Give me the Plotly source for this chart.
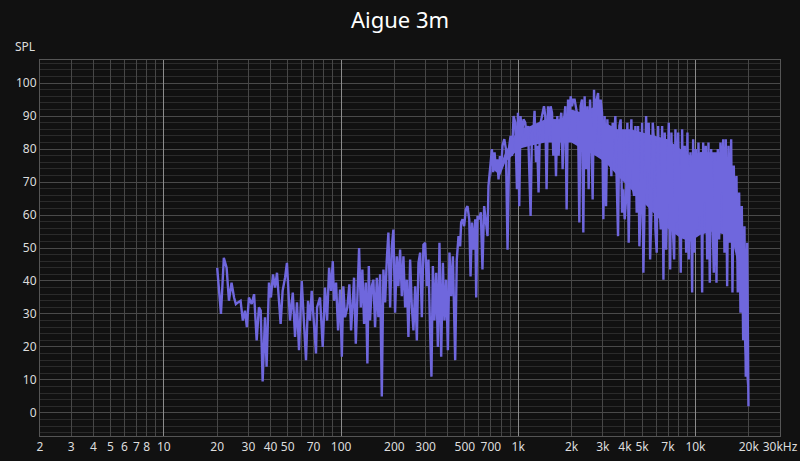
import math
import plotly.graph_objects as go

# ---- data (frequency in Hz, SPL in dB) ----
freq_low = [20, 21, 21.8, 22.6, 23.3, 24.1, 24.9, 25.5, 26.2, 27.1, 27.9, 28.7, 29.4, 30.2,
            31.3, 32.3, 33.4, 34.4, 35.2, 36.1, 37.2, 38.0, 39.2, 40.2, 41.3, 42.4, 43.5,
            44.6, 45.6, 46.8, 48.3, 49.5, 51.5, 53.4, 55.0, 56.4, 57.9, 60.0, 61.8, 63.4,
            65.1, 66.8, 68.3, 70.4, 72.2, 73.2, 76.1, 78.8, 81.2, 83.4, 85.6, 87.8, 89.8,
            91.3, 93.7, 96.2]
spl_low = [44, 30, 47, 44, 34, 39.5, 35, 33, 33.5, 34, 28, 31, 26, 35,
           33, 36, 22, 32, 31, 9.5, 29, 14, 39.5, 35, 42, 38, 42.5,
           34, 27, 37, 41, 45.5, 28, 36.5, 23, 33.5, 19, 40, 27, 16,
           34, 28, 37, 28, 18, 32, 35, 20, 38, 28, 44, 37, 46,
           34, 39.5, 25]

freq_mid = [98.7, 101, 103, 105.3, 108.5, 111.4, 113.9, 116.5, 118.4, 121.1, 123.6, 126.4,
            129.2, 131.9, 134.9, 137.9, 140.8, 143.4, 145.8, 149.1, 152.2, 155.6, 159.1,
            162.4, 166.1, 169.8, 173.4, 177.3, 181.2, 185, 189.2, 193.4, 197.4, 201.8,
            206.4, 210.7, 215.4, 220.3, 224.9, 229.9, 235, 240, 245.4, 250.9, 256.2, 261.9,
            267.7, 273.4, 279.5, 285.7, 291.7, 298.2, 304.9, 311.3, 318.3, 323.7, 329.7,
            336.6, 344.1, 351.8, 359.2, 367.3, 375.5, 383.4, 392, 400.8, 409.2, 418.4,
            427.7, 440.6]
spl_mid = [37.4, 17, 38.4, 29, 32, 39, 25, 34, 41, 21, 38.4, 50,
           32, 43.5, 27, 39.5, 15, 44.5, 28, 38.4, 40.4, 26, 41,
           29, 42, 5, 43.5, 33.5, 46.5, 54.7, 32, 50.5, 55.6, 30.4,
           47.5, 38.4, 49.5, 35.4, 47.5, 32, 40.4, 23, 46.5, 32, 25, 38.4,
           22, 45.5, 48.6, 29, 51, 51.6, 38.4, 46.5, 24.3, 11, 44.5,
           28, 42.5, 20, 51.6, 17, 45.5, 28, 40.4, 19, 48.6, 35.4,
           47.5, 16]

freq_upper = [450, 460, 470, 476, 485, 495, 506, 517, 529, 538, 548, 559, 572, 579, 589,
              602, 615, 628, 642, 657, 671, 679, 688, 701, 710, 722, 735, 748, 761, 774,
              788, 802, 815, 834, 852, 870, 890, 905, 921, 941, 962, 983, 996, 1013, 1030,
              1049, 1071, 1095, 1114, 1135, 1154, 1174, 1195, 1220, 1236, 1259, 1280, 1302,
              1326, 1349, 1372, 1397, 1421, 1445, 1472, 1497, 1523, 1551, 1577, 1604, 1633,
              1661, 1690, 1721, 1750, 1780, 1813, 1844, 1875, 1910, 1942, 1975, 2011, 2045,
              2080]
spl_upper = [46.5, 53.6, 50.5, 57.7, 58.7, 56.6, 61.7, 62.7, 58.7, 41.4, 57.7, 49.5, 58.7, 35, 59.7,
             58.7, 60.8, 43.5, 62.7, 58.7, 53.6, 68.8, 71.8, 75.9, 80, 73, 79, 73.9, 76.9, 70.8,
             77.9, 74.9, 81, 83, 80, 49.5, 81, 84, 77.9, 90, 88, 67.8, 91, 62.7, 90,
             84, 89, 88, 84, 87, 73, 59.7, 85, 86, 91.6, 76, 81, 66.8,
             87, 89, 91, 93, 90, 67.8, 93, 84, 93, 91, 78, 89, 71.8,
             90, 78, 88, 91, 73.9, 89, 93, 61.7, 95, 87, 96, 93, 95,
             95]

freq_high = [2174, 2211, 2249, 2290, 2329, 2369, 2413, 2454, 2496, 2542, 2585, 2629, 2677,
             2723, 2770, 2821, 2869, 2917, 2971, 3022, 3073, 3130, 3183, 3237, 3297, 3353,
             3410, 3472, 3532, 3592, 3658, 3720, 3784, 3853, 3919, 3986, 4059, 4128, 4199,
             4276, 4349, 4424, 4505, 4581, 4660, 4745, 4826, 4909, 4999, 5084, 5171, 5266,
             5356, 5448, 5548, 5642, 5739, 5844, 5943, 6045, 6156, 6260, 6368, 6485, 6596,
             6709, 6833, 6949, 7068, 7198, 7320, 7445, 7582, 7709, 7842, 7986, 8122, 8260,
             8412, 8555, 8700, 8861, 9011, 9166]
spl_high = [89, 57.7, 93, 95, 54.7, 96, 73.9, 93, 67.8, 95, 85, 64.7, 98,
            82, 95, 97, 82, 95, 91, 58.7, 90, 62.7, 89, 76.9, 87, 71.8,
            88, 83, 90, 70.8, 53.6, 87, 89, 60.7, 67.8, 58.7, 64.7, 88, 51.6,
            76.9, 89, 68.8, 65.8, 87, 60.7, 87, 50.5, 62.7, 88, 42.5, 66.8, 90,
            73.9, 88, 46.5, 60.7, 88, 82, 55.6, 48.6, 87, 63.7, 55.6, 87, 40.4,
            85, 49.5, 70.8, 88, 43.5, 85, 56.6, 46.5, 86, 57.7, 85, 59.7, 42.5,
            86, 53.6, 81, 48.6, 85, 46.5]

freq_top = [9371, 9580, 9705, 9871, 10039, 10224, 10398, 10576, 10770, 10911, 11054, 11240,
            11433, 11644, 11843, 12045, 12265, 12475, 12688, 12920, 13141, 13365, 13609,
            13841, 14078, 14335, 14580, 14829, 15099, 15357, 15620, 15905, 16176, 16453,
            16753, 17040, 17331, 17647, 17950, 18256, 18588, 18906, 19229, 19580, 19914]
spl_top = [79, 36.5, 83, 48.6, 80, 55.6, 82, 59.7, 79, 36.5, 82, 63.7,
           81, 46.5, 82, 39.5, 80, 55.6, 42.5, 78, 39.5, 80, 52.6,
           82, 66.8, 83, 48.6, 83, 38.4, 81, 51.6, 83, 36.5, 75,
           51.6, 71.8, 36.5, 66.8, 30.4, 62.7, 22, 56.6, 11, 51.6, 2]

freq = freq_low + freq_mid + freq_upper + freq_high + freq_top
spl = spl_low + spl_mid + spl_upper + spl_high + spl_top

# solid body of the dense response (upper / lower edge of the filled band)
band_freq = [700, 713, 791, 845, 925, 1000, 1169, 1421, 1727, 1994, 2300, 2723, 3102, 3625,
             4295, 5085, 5943, 6949, 8226, 9371, 10672, 12475, 14773, 16389, 17500, 18432,
             19164, 19665]
band_top = [72, 77, 75, 79, 83, 86, 87, 89, 89, 92, 91, 93, 88, 86,
            86, 85, 84, 83, 80, 78, 79, 79, 79, 73, 65, 56, 49, 34]
band_bottom = [71, 74, 72, 76, 78, 80, 81, 82, 82, 82, 80, 78, 76, 72,
               68, 64, 60, 56, 53, 52, 54, 55, 54, 51, 44, 28, 14, 6]

# ---- axis ticks ----
x_tick_vals = [2, 3, 4, 5, 6, 7, 8, 10, 20, 30, 40, 50, 70, 100, 200, 300, 500, 700,
               1000, 2000, 3000, 4000, 5000, 7000, 10000, 20000, 30000]
x_tick_text = ["2", "3", "4", "5", "6", "7", "8", "10", "20", "30", "40", "50", "70", "100",
               "200", "300", "500", "700", "1k", "2k", "3k", "4k", "5k", "7k", "10k", "20k",
               "30kHz"]
decade_vals = [10, 100, 1000, 10000]

grid_vals = [m * 10 ** e for e in range(0, 5) for m in range(1, 10) if 2 <= m * 10 ** e <= 30000]
label_map = dict(zip(x_tick_vals, x_tick_text))
grid_text = [label_map.get(v, "") for v in grid_vals]

xr = [math.log10(2), math.log10(30000)]
font_family = "Noto Sans, Open Sans, sans-serif"
trace_color = "#6f67dd"

fig = go.Figure()
fig.add_trace(go.Scatter(x=band_freq, y=band_bottom, mode="lines", line=dict(width=0),
                         showlegend=False, hoverinfo="skip"))
fig.add_trace(go.Scatter(x=band_freq, y=band_top, mode="lines", line=dict(width=0),
                         fill="tonexty", fillcolor=trace_color,
                         showlegend=False, hoverinfo="skip"))
fig.add_trace(go.Scatter(x=freq, y=spl, mode="lines",
                         line=dict(color=trace_color, width=2.4), showlegend=False))
fig.add_trace(go.Scatter(x=[], y=[], xaxis="x2", showlegend=False))

fig.update_layout(
    width=800, height=461,
    paper_bgcolor="#111111", plot_bgcolor="#111111",
    margin=dict(l=40, r=20, t=60, b=25, autoexpand=False),
    title=dict(text="Aigue 3m", x=0.5, xanchor="center", y=0.955, yanchor="middle",
               font=dict(family=font_family, size=22, color="#ffffff")),
    font=dict(family=font_family, color="#dddddd", size=12),
    xaxis=dict(type="log", range=xr, tickmode="array", tickvals=grid_vals, ticktext=grid_text,
               showgrid=True, gridcolor="#474747", gridwidth=1, zeroline=False, automargin=False,
               showline=True, linecolor="#555555", mirror=True, ticks="",
               tickfont=dict(size=12, color="#dddddd")),
    xaxis2=dict(type="log", range=xr, overlaying="x", tickmode="array", tickvals=decade_vals,
                showticklabels=False, showgrid=True, gridcolor="#8c8c8c", gridwidth=1,
                zeroline=False, showline=False, ticks="", automargin=False),
    yaxis=dict(range=[-7, 107], tickmode="linear", tick0=0, dtick=10, automargin=False,
               showgrid=True, gridcolor="#4a4a4a", gridwidth=1, zeroline=False,
               showline=True, linecolor="#555555", mirror=True, ticks="",
               tickfont=dict(size=12, color="#dddddd"),
               minor=dict(tick0=0, dtick=2, showgrid=True, gridcolor="#2b2b2b", gridwidth=1)),
    annotations=[dict(text="SPL", xref="paper", yref="paper", x=0, y=1, xanchor="right",
                      yanchor="bottom", xshift=-3, yshift=3, showarrow=False,
                      font=dict(family=font_family, size=12, color="#dddddd"))],
)

fig.write_html("out.html", config={"displayModeBar": False},
               post_script="document.body.style.margin='0';document.body.style.background='#111111';")
